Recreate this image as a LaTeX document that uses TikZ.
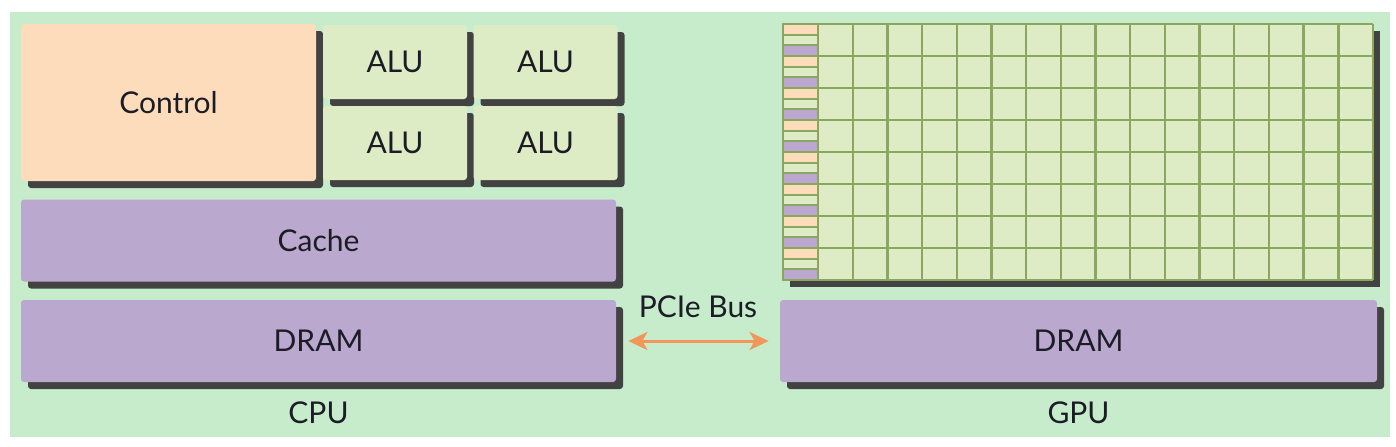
\documentclass[tikz,border=0pt]{standalone}
\usepackage{fontspec}
\setmainfont{Lato}
\usepackage{tikz}
\usetikzlibrary{arrows.meta}
\usetikzlibrary{shadows}

\definecolor{bggreen}{RGB}{198,236,204}
\definecolor{ctrlpeach}{RGB}{253,220,188}
\definecolor{alugreen}{RGB}{222,236,198}
\definecolor{mempurple}{RGB}{186,168,206}
\definecolor{shadowgray}{RGB}{66,66,66}
\definecolor{gridolive}{RGB}{140,165,95}
\definecolor{busorange}{RGB}{242,150,90}
\definecolor{inkdark}{RGB}{28,28,38}

\tikzset{
  hwshadow/.style={drop shadow={shadow xshift=3.5pt, shadow yshift=-3.5pt, fill=shadowgray, opacity=1}},
  unit/.style={hwshadow, rounded corners=1.5pt, inner sep=0pt, text=inkdark, font=\fontsize{15}{18}\selectfont},
  ctrlbox/.style={unit, fill=ctrlpeach},
  alubox/.style={unit, fill=alugreen, minimum width=72pt, minimum height=37pt},
  membox/.style={unit, fill=mempurple, minimum height=41pt},
  caption/.style={text=inkdark, font=\fontsize{15}{18}\selectfont},
  gridline/.style={gridolive, line width=1.2pt},
  bus/.style={busorange, line width=1.5pt, {Stealth[length=9.5pt,width=9pt,inset=2.5pt]}-{Stealth[length=9.5pt,width=9pt,inset=2.5pt]}}
}

\begin{document}
\begin{tikzpicture}[x=0.5pt, y=-0.5pt]
\useasboundingbox (0,0) rectangle (1396,446);
\fill[bggreen] (10,12) rectangle (1390,437);

% CPU side
\node[ctrlbox, minimum width=147.5pt, minimum height=78.5pt] (ctrl) at (168.5,102.5) {Control};
\node[alubox] (alu11) at (395,62) {ALU};
\node[alubox] (alu12) at (545.5,62) {ALU};
\node[alubox] (alu21) at (395,143) {ALU};
\node[alubox] (alu22) at (545.5,143) {ALU};
\node[membox, minimum width=297.5pt] (cache) at (318.5,240.5) {Cache};
\node[membox, minimum width=297.5pt] (cdram) at (318.5,341) {DRAM};
\node[caption] (cpu) at (318.5,413) {CPU};

% GPU side
\path[hwshadow, fill=alugreen] (783,24) rectangle (1373,280);
\foreach \j in {0,...,7} {
  \filldraw[ctrlpeach, draw=gridolive, line width=0.9pt] (783,{24+32*\j}) rectangle (818,{24+32*\j+10.67});
  \filldraw[alugreen, draw=gridolive, line width=0.9pt] (783,{24+32*\j+10.67}) rectangle (818,{24+32*\j+21.33});
  \filldraw[mempurple, draw=gridolive, line width=0.9pt] (783,{24+32*\j+21.33}) rectangle (818,{24+32*\j+32});
}
\foreach \i in {0,...,16}
  \draw[gridline] ({818+\i*34.69},24) -- ++(0,256);
\foreach \j in {0,...,8}
  \draw[gridline] (783,{24+32*\j}) -- (1373,{24+32*\j});
\draw[gridline] (783,24) -- (783,280);
\node[membox, minimum width=298.5pt] (gdram) at (1078.5,341) {DRAM};
\node[caption] (gpu) at (1078.5,413) {GPU};

% bus
\node[caption] (buslbl) at (698,307) {PCIe Bus};
\draw[bus] ([xshift=6pt]cdram.east) -- ([xshift=-5.5pt]gdram.west);
\end{tikzpicture}
\end{document}
